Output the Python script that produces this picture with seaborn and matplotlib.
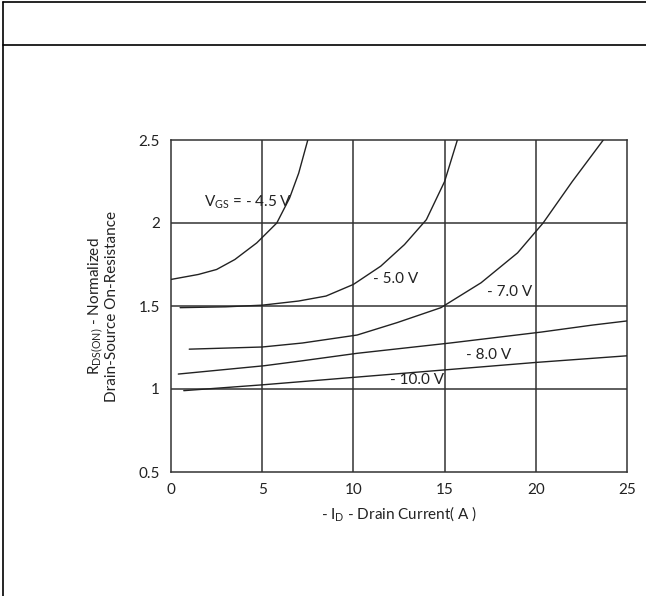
import numpy as np
import pandas as pd
import matplotlib
matplotlib.use("Agg")
import matplotlib.pyplot as plt
from matplotlib.lines import Line2D
import seaborn as sns

# curve data: -I_D (A) vs normalised R_DS(on)
id_45 = [0.0, 1.5, 2.5, 3.5, 4.7, 5.8, 6.5, 7.0, 7.5]
r_45 = [1.66, 1.69, 1.72, 1.78, 1.88, 2.0, 2.15, 2.3, 2.5]

id_50 = [0.5, 3.0, 5.0, 7.0, 8.5, 10.0, 11.5, 12.8, 14.0, 15.0, 15.7]
r_50 = [1.49, 1.495, 1.505, 1.53, 1.56, 1.63, 1.74, 1.87, 2.02, 2.25, 2.5]

id_70 = [1.0, 5.0, 7.2, 10.2, 12.4, 14.8, 17.0, 19.0, 20.4, 22.0, 23.7]
r_70 = [1.24, 1.253, 1.277, 1.325, 1.40, 1.49, 1.64, 1.82, 2.0, 2.25, 2.5]

id_80 = [0.4, 5.1, 7.2, 10.2, 15.3, 20.3, 23.1, 25.0]
r_80 = [1.09, 1.14, 1.17, 1.215, 1.277, 1.343, 1.385, 1.41]

id_100 = [0.7, 5.0, 10.0, 15.0, 20.0, 25.0]
r_100 = [0.99, 1.025, 1.07, 1.115, 1.16, 1.20]

x_ticks = [0, 5, 10, 15, 20, 25]
y_ticks = [0.5, 1, 1.5, 2, 2.5]

frames = []
for name, xs, ys in [("-4.5", id_45, r_45), ("-5.0", id_50, r_50),
                     ("-7.0", id_70, r_70), ("-8.0", id_80, r_80),
                     ("-10.0", id_100, r_100)]:
    frames.append(pd.DataFrame({"id": xs, "r": ys, "vgs": name}))
df = pd.concat(frames, ignore_index=True)

sns.set_style("white")
plt.rcParams['font.family'] = ['Lato', 'DejaVu Sans']
plt.rcParams['mathtext.default'] = 'regular'

fig = plt.figure(figsize=(6.46, 5.96), dpi=100)
ax = fig.add_axes([171 / 646, 1 - 472 / 596, (627 - 171) / 646, (472 - 140) / 596])

# grid lines first so curves sit on top
for xv in x_ticks[1:-1]:
    ax.axvline(xv, color='#333333', lw=1.1, zorder=1)
for yv in y_ticks[1:-1]:
    ax.axhline(yv, color='#333333', lw=1.1, zorder=1)

sns.lineplot(data=df, x="id", y="r", hue="vgs", units="vgs", estimator=None,
             palette=['#222222'] * 5, linewidth=1.0, legend=False, ax=ax,
             sort=False, zorder=3)

ax.set_xlim(0, 25)
ax.set_ylim(0.5, 2.5)
ax.set_xticks(x_ticks)
ax.set_yticks(y_ticks)
ax.set_yticklabels(['0.5', '1', '1.5', '2', '2.5'])
ax.tick_params(axis='both', length=0, labelsize=11, colors='#222222', pad=8)
for s in ax.spines.values():
    s.set_color('#333333')
    s.set_linewidth(1.1)

ax.set_xlabel("- I$_{D}$ - Drain Current( A )", fontsize=11, color='#222222', labelpad=5)
ax.set_ylabel("R$_{DS(ON)}$ - Normalized\nDrain-Source On-Resistance", fontsize=11,
              color='#222222', labelpad=14, linespacing=1.0)

lab_kw = dict(fontsize=11, color='#222222', zorder=4)
ax.text(1.8, 2.1, "V$_{GS}$ = - 4.5 V", **lab_kw)
ax.text(11.1, 1.64, "- 5.0 V", **lab_kw)
ax.text(17.3, 1.56, "- 7.0 V", **lab_kw)
ax.text(16.2, 1.18, "- 8.0 V", **lab_kw)
ax.text(12.0, 1.03, "- 10.0 V", **lab_kw)

# outer frame of the page
fig.add_artist(Line2D([3 / 646, 3 / 646], [0, 1 - 2 / 596], transform=fig.transFigure, color='black', lw=1.2))
fig.add_artist(Line2D([3 / 646, 1], [1 - 2 / 596, 1 - 2 / 596], transform=fig.transFigure, color='black', lw=1.2))
fig.add_artist(Line2D([3 / 646, 1], [1 - 45 / 596, 1 - 45 / 596], transform=fig.transFigure, color='black', lw=1.2))

fig.savefig("out.png", dpi=100)
